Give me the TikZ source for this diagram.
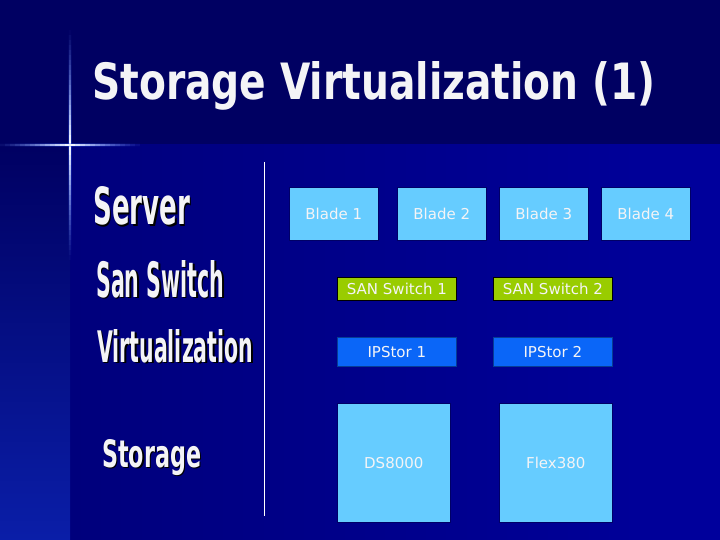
\documentclass[tikz,border=0pt]{standalone}
\usepackage{fontspec}
\usepackage{graphicx}
\setmainfont{DejaVu Sans}
\newfontfamily\condfont{DejaVu Sans Condensed}
\definecolor{bgtop}{HTML}{000062}
\definecolor{bgleft}{HTML}{00007C}
\definecolor{bgright}{HTML}{00009C}
\definecolor{stripbot}{HTML}{0A1EA8}
\definecolor{lightbox}{HTML}{66CCFF}
\definecolor{greenbox}{HTML}{99CC00}
\definecolor{ipbox}{HTML}{0A66F8}
\definecolor{txt}{HTML}{F4F4F6}
\definecolor{glow}{HTML}{3366FF}
\tikzset{
  box/.style={anchor=north west, inner sep=0pt, draw=black!60!blue, line width=0.6pt,
    text=txt, font=\fontsize{15}{18}\selectfont},
  bladebox/.style={box, fill=lightbox, minimum width=89pt, minimum height=53pt},
  switchbox/.style={box, fill=greenbox, draw=black, line width=0.8pt, minimum width=119pt, minimum height=23pt},
  ipstorbox/.style={box, fill=ipbox, draw=ipbox!60!black, minimum width=119pt, minimum height=29pt},
  diskbox/.style={box, fill=lightbox, minimum width=113pt, minimum height=119pt},
  layerlabel/.style={anchor=base west, inner sep=0pt, text=txt, font=\condfont\bfseries},
  layershadow/.style={anchor=base west, inner sep=0pt, text=black, font=\condfont\bfseries},
}
\begin{document}
\begin{tikzpicture}[x=1pt,y=-1pt]
\useasboundingbox (0,0) rectangle (720,540);
% background
\fill[bgtop] (0,0) rectangle (720,146);
\shade[left color=bgleft, right color=bgright] (70,145) rectangle (720,540);
\shade[top color=bgtop, bottom color=stripbot] (0,145) rectangle (70,540);
% star (vertical arm)
\foreach \k in {0,...,45}{
  \pgfmathsetmacro{\ya}{30+5*\k}
  \pgfmathsetmacro{\yb}{\ya+5}
  \pgfmathsetmacro{\op}{max(0,1-abs(\ya+2.5-145)/115)}
  \draw[glow, line width=4pt, opacity=0.3*\op] (70,\ya) -- (70,\yb);
  \draw[glow!60!white, line width=1.3pt, opacity=\op] (70,\ya) -- (70,\yb);
  \draw[white, line width=1.2pt, opacity=\op*\op*\op] (70,\ya) -- (70,\yb);
}
% star (horizontal arm)
\foreach \k in {0,...,27}{
  \pgfmathsetmacro{\xa}{5*\k}
  \pgfmathsetmacro{\xb}{\xa+5}
  \pgfmathsetmacro{\op}{max(0,1-abs(\xa+2.5-70)/72)}
  \draw[glow, line width=4pt, opacity=0.3*\op] (\xa,145) -- (\xb,145);
  \draw[glow!60!white, line width=1.3pt, opacity=\op] (\xa,145) -- (\xb,145);
  \draw[white, line width=1.2pt, opacity=\op*\op*\op] (\xa,145) -- (\xb,145);
}
% title
\node[anchor=base west, inner sep=0pt, text=txt, font=\bfseries] (title) at (92,100)
  {\resizebox{563pt}{38pt}{Storage Virtualization (1)}};
% layer labels (shadow + text)
\node[layershadow] at (94.5,226.5) {\resizebox{97pt}{38pt}{Server}};
\node[layerlabel] (server) at (93,225) {\resizebox{97pt}{38pt}{Server}};
\node[layershadow] at (97.5,298.5) {\resizebox{128pt}{37pt}{San Switch}};
\node[layerlabel] (sanswitch) at (96,297) {\resizebox{128pt}{37pt}{San Switch}};
\node[layershadow] at (98.5,363.5) {\resizebox{156pt}{33pt}{Virtualization}};
\node[layerlabel] (virt) at (97,362) {\resizebox{156pt}{33pt}{Virtualization}};
\node[layershadow] at (103.5,468.5) {\resizebox{99pt}{28pt}{Storage}};
\node[layerlabel] (storage) at (102,467) {\resizebox{99pt}{28pt}{Storage}};
% divider
\coordinate (divtop) at (264,162);
\coordinate (divbot) at (264,516);
\draw[white, line width=0.8pt] (divtop) -- (divbot);
% blades
\node[bladebox] (b1) at (289,187) {Blade 1};
\node[bladebox] (b2) at (397,187) {Blade 2};
\node[bladebox] (b3) at (499,187) {Blade 3};
\node[bladebox] (b4) at (601,187) {Blade 4};
% switches
\node[switchbox] (s1) at (337,277) {SAN Switch 1};
\node[switchbox] (s2) at (493,277) {SAN Switch 2};
% ipstor
\node[ipstorbox] (i1) at (337,337) {IPStor 1};
\node[ipstorbox] (i2) at (493,337) {IPStor 2};
% storage
\node[diskbox] (d1) at (337,403) {DS8000};
\node[diskbox] (d2) at (499,403) {Flex380};
\end{tikzpicture}
\end{document}
